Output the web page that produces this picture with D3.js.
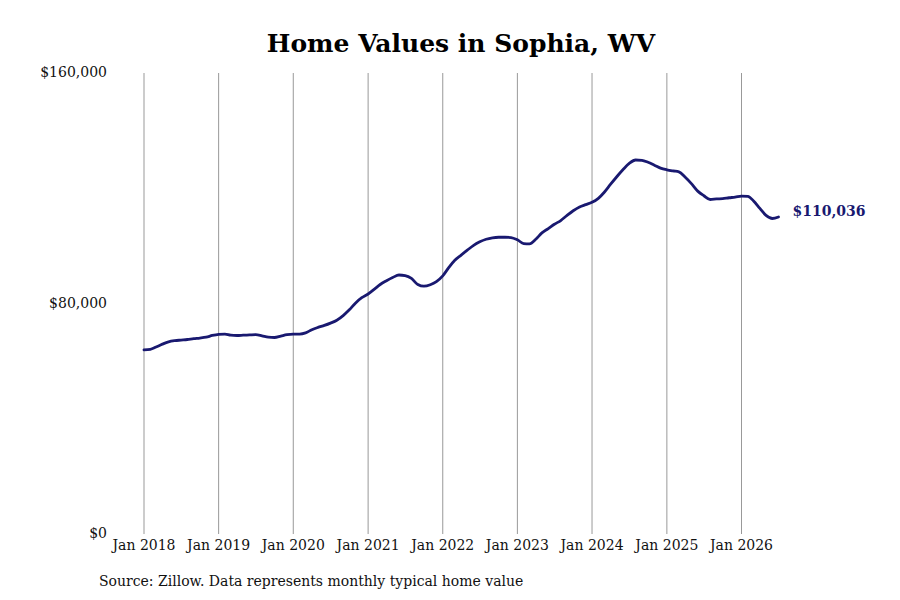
<!DOCTYPE html>
<html>
<head>
<meta charset="utf-8">
<script src="https://cdn.jsdelivr.net/npm/d3@7"></script>
<style>
  html, body { margin: 0; padding: 0; background: #fff; }
  svg text { font-family: "DejaVu Serif", serif; }
</style>
</head>
<body>
<svg id="chart" width="900" height="600"></svg>
<script>
const titleText = "Home Values in Sophia, WV";
const sourceText = "Source: Zillow. Data represents monthly typical home value";
const startMonth = "2018-01";
const values = [
  63900, 64100, 64900, 65900, 66700, 67100, 67300, 67500, 67800, 68000, 68300, 68900,
  69300, 69400, 69000, 68900, 69000, 69100, 69200, 68800, 68300, 68200, 68700, 69200,
  69400, 69400, 69800, 70900, 71700, 72400, 73200, 74200, 75800, 77800, 80200, 82000,
  83300, 85000, 86600, 87900, 89000, 89900, 89700, 88700, 86600, 86000, 86500, 87600,
  89600, 92600, 95000, 96800, 98500, 100200, 101400, 102300, 102800, 103000, 103000, 102900,
  102100, 100800, 100700, 102300, 104500, 106000, 107500, 108800, 110600, 112200, 113500, 114300,
  115100, 116500, 118600, 121400, 124000, 126500, 128600, 129800, 129700, 129000, 128000, 127000,
  126400, 126000, 125700, 123800, 121600, 119000, 117400, 116100, 116300, 116400, 116700, 116900,
  117300, 117200, 115600, 113000, 110600, 109500, 110036
];
const yTicks = [0, 80000, 160000];
const xTickYears = [2018, 2019, 2020, 2021, 2022, 2023, 2024, 2025, 2026];
const lastLabel = "$110,036";

const svg = d3.select("#chart");
const mLeft = 144, mRight = 741.5, mTop = 73, mBottom = 534;

const parse = d3.timeParse("%Y-%m");
const t0 = parse(startMonth);
const data = values.map((v, i) => ({ date: d3.timeMonth.offset(t0, i), value: v }));

const x = d3.scaleTime()
  .domain([new Date(2018, 0, 1), new Date(2026, 0, 1)])
  .range([mLeft, mRight]);
const y = d3.scaleLinear().domain([0, 160000]).range([mBottom, mTop]);

// vertical gridlines
svg.append("g").selectAll("line")
  .data(xTickYears)
  .join("line")
  .attr("x1", d => x(new Date(d, 0, 1)))
  .attr("x2", d => x(new Date(d, 0, 1)))
  .attr("y1", mTop)
  .attr("y2", mBottom)
  .attr("stroke", "#999")
  .attr("stroke-width", 1);

// x labels
svg.append("g").selectAll("text")
  .data(xTickYears)
  .join("text")
  .attr("x", d => x(new Date(d, 0, 1)))
  .attr("y", 550)
  .attr("text-anchor", "middle")
  .attr("font-size", 14)
  .attr("fill", "#111")
  .text(d => "Jan " + d);

// y labels
const fmt = d3.format("$,");
svg.append("g").selectAll("text")
  .data(yTicks)
  .join("text")
  .attr("x", 107)
  .attr("y", d => y(d))
  .attr("dy", "0.3em")
  .attr("text-anchor", "end")
  .attr("font-size", 14)
  .attr("fill", "#111")
  .text(d => fmt(d));

// line
const line = d3.line()
  .x(d => x(d.date))
  .y(d => y(d.value))
  .curve(d3.curveMonotoneX);

svg.append("path")
  .datum(data)
  .attr("fill", "none")
  .attr("stroke", "#191970")
  .attr("stroke-width", 2.8)
  .attr("stroke-linejoin", "round")
  .attr("stroke-linecap", "round")
  .attr("d", line);

// end label
const last = data[data.length - 1];
svg.append("text")
  .attr("x", x(last.date) + 14)
  .attr("y", y(last.value) - 6)
  .attr("dy", "0.35em")
  .attr("font-size", 14)
  .attr("font-weight", "bold")
  .attr("fill", "#191970")
  .text(lastLabel);

// title
svg.append("text")
  .attr("x", 461)
  .attr("y", 52)
  .attr("text-anchor", "middle")
  .attr("font-size", 25)
  .attr("font-weight", "bold")
  .attr("fill", "#000")
  .text(titleText);

// source
svg.append("text")
  .attr("x", 99)
  .attr("y", 586)
  .attr("font-size", 14)
  .attr("fill", "#111")
  .text(sourceText);
</script>
</body>
</html>
